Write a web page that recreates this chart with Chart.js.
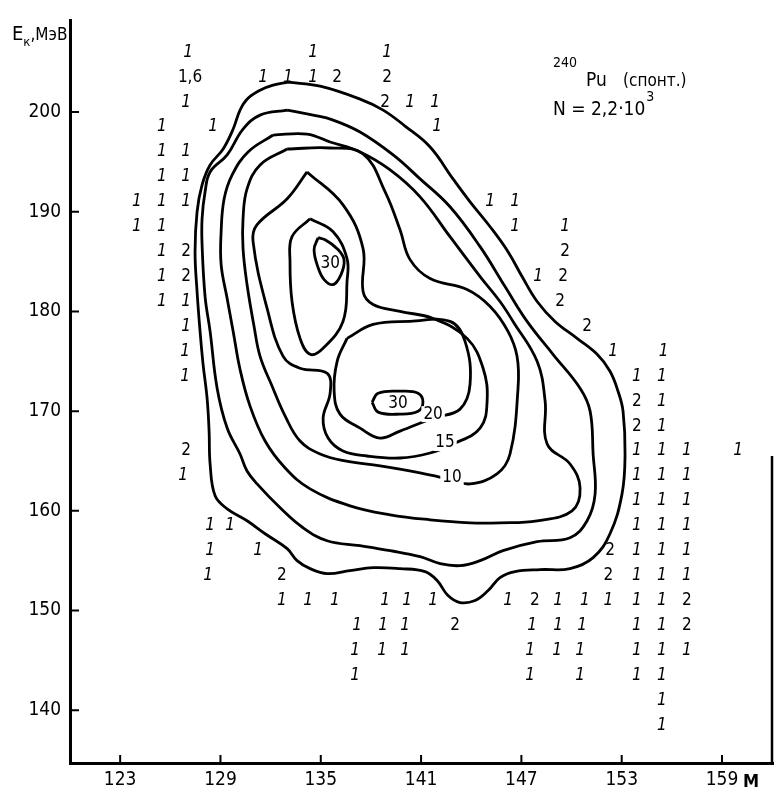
<!DOCTYPE html>
<html>
<head>
<meta charset="utf-8">
<script src="https://cdn.jsdelivr.net/npm/chart.js@4.4.1/dist/chart.umd.min.js"></script>
<style>
  html, body { margin: 0; padding: 0; background: #fff; }
</style>
</head>
<body>
<canvas id="chart" width="777" height="794"></canvas>
<script>
const FONT = '"DejaVu Sans Condensed", "Liberation Sans Narrow", "DejaVu Sans", sans-serif';

const xTicks = [123, 129, 135, 141, 147, 153, 159];
const yTicks = [140, 150, 160, 170, 180, 190, 200];

// contour lines as [M, E] pairs, outermost first
const contourOuter = [
  [133.04, 203.0], [134.96, 202.6], [137.35, 201.3], [138.73, 200.2], [140.04, 198.6],
  [141.54, 196.5], [142.91, 193.3], [143.93, 191.0], [145.13, 188.5], [146.20, 186.0],
  [147.04, 183.5], [147.94, 181.0], [149.01, 179.0], [150.33, 177.3], [151.53, 175.7],
  [152.30, 174.0], [152.78, 172.0], [153.08, 170.0], [153.20, 165.7], [153.02, 161.7],
  [152.30, 157.7], [151.29, 155.3], [149.91, 154.2], [148.12, 154.1], [146.62, 153.9],
  [145.72, 153.3], [145.01, 152.0], [144.23, 151.0], [143.33, 150.8], [142.61, 151.5],
  [141.96, 153.0], [141.24, 153.9], [139.74, 154.2], [138.13, 154.3], [136.75, 154.0],
  [135.38, 153.7], [134.36, 154.2], [133.58, 155.0], [132.99, 156.2], [131.67, 157.7],
  [130.59, 159.0], [129.40, 160.2], [128.68, 161.5], [128.38, 164.7], [128.32, 168.0],
  [128.20, 171.3], [127.96, 174.7], [127.78, 178.0], [127.60, 182.0], [127.48, 186.0],
  [127.60, 190.0], [127.90, 192.7], [128.38, 194.7], [129.16, 196.3], [129.76, 198.3],
  [130.17, 200.2], [130.59, 201.3], [131.37, 202.2], [132.15, 202.7], [133.04, 203.0]
];
const contourSecond = [
  [132.99, 200.2], [134.54, 199.7], [135.74, 199.2], [137.35, 198.0], [139.33, 195.7],
  [140.94, 193.3], [142.73, 190.5], [144.53, 186.5], [146.02, 182.5], [147.34, 179.0],
  [148.89, 175.7], [150.51, 172.3], [151.11, 170.0], [151.29, 165.7], [151.41, 161.7],
  [150.93, 159.0], [149.91, 157.3], [147.94, 156.9], [145.90, 156.0], [144.53, 155.0],
  [143.33, 154.5], [142.14, 154.7], [140.94, 155.4], [139.15, 156.0], [137.35, 156.5],
  [135.38, 157.0], [133.94, 158.3], [132.57, 160.3], [131.19, 162.7], [130.59, 164.0],
  [130.17, 165.7], [129.40, 168.3], [128.80, 172.3], [128.38, 178.0], [128.08, 181.5],
  [127.90, 186.7], [127.90, 189.3], [128.08, 192.0], [128.38, 194.0], [129.40, 195.7],
  [130.35, 198.3], [131.37, 199.7], [132.99, 200.2]
];
const contourThird = [
  [132.15, 197.7], [134.18, 197.8], [135.56, 197.0], [137.35, 196.0], [139.15, 194.2],
  [140.94, 191.5], [142.73, 187.5], [144.53, 183.5], [145.72, 181.0], [146.50, 179.0],
  [147.94, 175.0], [148.42, 171.0], [148.54, 166.7], [149.91, 164.7], [150.51, 162.3],
  [150.03, 160.0], [147.94, 159.0], [145.72, 158.8], [143.93, 158.8], [141.54, 159.1],
  [139.15, 159.6], [136.75, 160.5], [134.36, 162.2], [132.87, 164.3], [131.67, 167.0],
  [130.77, 170.5], [130.17, 174.2], [129.76, 178.0], [129.40, 181.3], [129.04, 184.7],
  [129.04, 188.0], [129.22, 191.3], [129.70, 193.7], [130.65, 196.0], [132.15, 197.7]
];
const contour10 = [
  [132.99, 196.3], [135.56, 196.4], [137.53, 195.8], [138.85, 192.0], [139.74, 188.2],
  [140.34, 185.2], [141.54, 183.3], [143.75, 182.2], [145.13, 180.5], [146.20, 178.0],
  [146.74, 175.5], [146.80, 172.3], [146.32, 165.7], [145.54, 163.7], [143.93, 162.7],
  [142.85, 163.1], [140.94, 163.8], [138.55, 164.5], [136.45, 165.0], [134.96, 165.7],
  [133.76, 167.0], [132.87, 169.5], [132.09, 172.5], [131.37, 175.5], [131.01, 178.5],
  [130.59, 182.7], [130.35, 186.3], [130.35, 189.3], [130.59, 192.3], [131.37, 194.7],
  [132.99, 196.3]
];
const contour15 = [
  [134.18, 194.0], [136.33, 190.7], [137.53, 186.3], [137.53, 182.0], [138.13, 180.7],
  [139.74, 180.0], [141.72, 179.3], [143.75, 177.3], [144.71, 174.3], [144.95, 171.0],
  [144.53, 168.3], [142.91, 166.7], [141.54, 165.8], [139.74, 165.3], [137.77, 165.5],
  [136.33, 166.0], [135.44, 167.3], [135.14, 169.3], [135.56, 171.8], [135.38, 173.8],
  [133.76, 174.3], [132.75, 175.5], [131.79, 180.3], [130.95, 187.0], [131.19, 188.7],
  [132.99, 191.3], [134.18, 194.0]
];
const contour20a = [
  [134.36, 189.3], [135.74, 188.0], [136.57, 185.3], [136.57, 183.0], [136.33, 179.0],
  [135.14, 176.3], [134.36, 175.7], [133.76, 177.3], [133.28, 181.0], [133.16, 185.0],
  [133.28, 187.5], [134.36, 189.3]
];
const contour20b = [
  [136.57, 177.3], [138.13, 178.7], [140.34, 179.0], [142.73, 179.0], [143.63, 177.0],
  [143.93, 172.7], [143.33, 170.2], [141.72, 169.3], [139.74, 168.0], [138.55, 167.3],
  [137.35, 168.3], [136.15, 169.7], [135.80, 172.0], [135.98, 175.0], [136.57, 177.3]
];
const contour30a = [
  [134.84, 187.4], [134.60, 186.2], [134.84, 184.4], [135.20, 183.2], [135.74, 182.7],
  [136.21, 183.7], [136.39, 185.2], [135.98, 186.3], [135.26, 187.2], [134.84, 187.4]
];
const contour30b = [
  [138.07, 170.9], [138.43, 171.8], [139.74, 172.0], [140.82, 171.8], [141.11, 170.9],
  [140.82, 170.0], [139.74, 169.7], [138.43, 169.9], [138.07, 170.9]
];

// level labels placed on the contours
const levelText = ["30", "30", "20", "15", "10"];
const levelM = [135.56, 139.62, 141.72, 142.43, 142.85];
const levelE = [184.8, 170.8, 169.7, 166.8, 163.3];
const levelCut = [false, false, true, true, true];

// event counts in single cells outside the contours, one row per energy bin
const countRows = [
  [206.0, [[127.06, "1"], [134.54, "1"], [138.97, "1"]]],
  [203.5, [[127.18, "1,6"], [131.55, "1"], [133.04, "1"], [134.54, "1"], [135.98, "2"], [138.97, "2"]]],
  [201.0, [[126.94, "1"], [138.85, "2"], [140.34, "1"], [141.84, "1"]]],
  [198.5, [[125.5, "1"], [128.56, "1"], [141.96, "1"]]],
  [196.0, [[125.5, "1"], [126.94, "1"]]],
  [193.5, [[125.5, "1"], [126.94, "1"]]],
  [191.0, [[124.0, "1"], [125.5, "1"], [126.94, "1"], [145.13, "1"], [146.62, "1"]]],
  [188.5, [[124.0, "1"], [125.5, "1"], [146.62, "1"], [149.61, "1"]]],
  [186.0, [[125.5, "1"], [126.94, "2"], [149.61, "2"]]],
  [183.5, [[125.5, "1"], [126.94, "2"], [148.0, "1"], [149.49, "2"]]],
  [181.0, [[125.5, "1"], [126.94, "1"], [149.31, "2"]]],
  [178.5, [[126.94, "1"], [150.93, "2"]]],
  [176.0, [[126.88, "1"], [152.48, "1"], [155.5, "1"]]],
  [173.5, [[126.88, "1"], [153.9, "1"], [155.4, "1"]]],
  [171.0, [[153.9, "2"], [155.4, "1"]]],
  [168.5, [[153.9, "2"], [155.4, "1"]]],
  [166.0, [[126.94, "2"], [153.9, "1"], [155.4, "1"], [156.9, "1"], [159.96, "1"]]],
  [163.5, [[126.76, "1"], [153.9, "1"], [155.4, "1"], [156.9, "1"]]],
  [161.0, [[153.9, "1"], [155.4, "1"], [156.9, "1"]]],
  [158.5, [[128.38, "1"], [129.58, "1"], [153.9, "1"], [155.4, "1"], [156.9, "1"]]],
  [156.0, [[128.38, "1"], [131.25, "1"], [152.3, "2"], [153.9, "1"], [155.4, "1"], [156.9, "1"]]],
  [153.5, [[128.26, "1"], [132.68, "2"], [152.2, "2"], [153.9, "1"], [155.4, "1"], [156.9, "1"]]],
  [151.0, [[132.68, "1"], [134.24, "1"], [135.85, "1"], [138.85, "1"], [140.16, "1"], [141.72, "1"],
           [146.2, "1"], [147.8, "2"], [149.2, "1"], [150.8, "1"], [152.2, "1"], [153.9, "1"],
           [155.4, "1"], [156.9, "2"]]],
  [148.5, [[137.17, "1"], [138.73, "1"], [140.04, "1"], [143.03, "2"], [147.64, "1"], [149.19, "1"],
           [150.63, "1"], [153.9, "1"], [155.4, "1"], [156.9, "2"]]],
  [146.0, [[137.05, "1"], [138.67, "1"], [140.04, "1"], [147.52, "1"], [149.13, "1"], [150.51, "1"],
           [153.9, "1"], [155.4, "1"], [156.9, "1"]]],
  [143.5, [[137.05, "1"], [147.52, "1"], [150.51, "1"], [153.9, "1"], [155.4, "1"]]],
  [141.0, [[155.4, "1"]]],
  [138.5, [[155.4, "1"]]]
];

const countPoints = [];
const countText = [];
countRows.forEach(([e, cells]) => {
  cells.forEach(([m, t]) => {
    countPoints.push({ x: m, y: e });
    countText.push(t);
  });
});

function contourSet(pts) {
  return {
    data: pts.map(([x, y]) => ({ x, y })),
    showLine: true,
    borderColor: "#000",
    borderWidth: 2.8,
    pointRadius: 0,
    tension: 0.4,
    fill: false
  };
}

// writes each dataset's texts at its points; single "1"s lean like the hand lettering
const markText = {
  id: "markText",
  afterDatasetsDraw(chart) {
    const ctx = chart.ctx;
    chart.data.datasets.forEach((ds, i) => {
      if (!ds.texts) return;
      const meta = chart.getDatasetMeta(i);
      ctx.save();
      ctx.textAlign = "center";
      ctx.textBaseline = "middle";
      meta.data.forEach((pt, j) => {
        const t = ds.texts[j];
        ctx.font = (ds.slantOnes && t === "1" ? "italic " : "") + ds.textFont;
        if (ds.cut && ds.cut[j]) {
          const w = ctx.measureText(t).width + 4;
          ctx.fillStyle = "#fff";
          ctx.fillRect(pt.x - w / 2, pt.y - 8, w, 16);
        }
        ctx.fillStyle = "#000";
        ctx.fillText(t, pt.x, pt.y);
      });
      ctx.restore();
    });
  }
};

const frame = {
  id: "frame",
  afterDraw(chart) {
    const ctx = chart.ctx;
    const { left, right, bottom } = chart.chartArea;
    const xs = chart.scales.x;
    const ys = chart.scales.y;
    ctx.save();
    ctx.strokeStyle = "#000";
    ctx.lineWidth = 2;
    ctx.beginPath();
    yTicks.forEach(v => {
      const y = ys.getPixelForValue(v);
      ctx.moveTo(left, y);
      ctx.lineTo(left + 9, y);
    });
    xTicks.forEach(v => {
      const x = xs.getPixelForValue(v);
      ctx.moveTo(x, bottom);
      ctx.lineTo(x, bottom - 8);
    });
    ctx.stroke();

    // short piece of the right frame
    ctx.lineWidth = 2.5;
    ctx.beginPath();
    ctx.moveTo(right - 1, ys.getPixelForValue(165.5));
    ctx.lineTo(right - 1, bottom);
    ctx.stroke();

    ctx.fillStyle = "#000";
    ctx.textBaseline = "alphabetic";
    ctx.font = "bold 18px " + FONT;
    ctx.fillText("М", xs.getPixelForValue(159) + 21, 787);

    // axis title E_к, МэВ
    ctx.font = "20px " + FONT;
    ctx.fillText("E", 12, 40);
    let x = 12 + ctx.measureText("E").width;
    ctx.font = "13px " + FONT;
    ctx.fillText("к", x, 46);
    x += ctx.measureText("к").width;
    ctx.font = "17px " + FONT;
    ctx.fillText(",МэВ", x, 40);

    // sample note
    ctx.font = "14px " + FONT;
    ctx.fillText("240", 553, 67);
    ctx.font = "19px " + FONT;
    ctx.fillText("Pu", 586, 86);
    ctx.font = "17px " + FONT;
    ctx.fillText("(спонт.)", 623, 86);
    ctx.font = "19px " + FONT;
    const note = "N = 2,2·10";
    ctx.fillText(note, 553, 115);
    const nw = ctx.measureText(note).width;
    ctx.font = "14px " + FONT;
    ctx.fillText("3", 553 + nw + 1, 101);
    ctx.restore();
  }
};

new Chart(document.getElementById("chart"), {
  type: "scatter",
  plugins: [markText, frame],
  data: {
    datasets: [
      contourSet(contourOuter),
      contourSet(contourSecond),
      contourSet(contourThird),
      contourSet(contour10),
      contourSet(contour15),
      contourSet(contour20a),
      contourSet(contour20b),
      contourSet(contour30a),
      contourSet(contour30b),
      {
        data: countPoints,
        texts: countText,
        textFont: "17px " + FONT,
        slantOnes: true,
        pointRadius: 0
      },
      {
        data: levelM.map((m, i) => ({ x: m, y: levelE[i] })),
        texts: levelText,
        cut: levelCut,
        textFont: "17px " + FONT,
        pointRadius: 0
      }
    ]
  },
  options: {
    responsive: false,
    animation: false,
    layout: { padding: { top: 18, right: 4, left: 0, bottom: 0 } },
    plugins: { legend: { display: false }, tooltip: { enabled: false } },
    scales: {
      x: {
        type: "linear",
        min: 120.0,
        max: 162.05,
        afterBuildTicks: s => { s.ticks = xTicks.map(v => ({ value: v })); },
        afterFit: s => { s.height = 31; },
        grid: { display: false, drawTicks: false },
        border: { display: true, color: "#000", width: 3 },
        ticks: { color: "#000", padding: 6, maxRotation: 0, font: { family: FONT, size: 19 } }
      },
      y: {
        type: "linear",
        min: 134.7,
        max: 209.2,
        afterBuildTicks: s => { s.ticks = yTicks.map(v => ({ value: v })); },
        afterFit: s => { s.width = 70; },
        grid: { display: false, drawTicks: false },
        border: { display: true, color: "#000", width: 3 },
        ticks: { color: "#000", padding: 9, font: { family: FONT, size: 19 } }
      }
    }
  }
});
</script>
</body>
</html>
